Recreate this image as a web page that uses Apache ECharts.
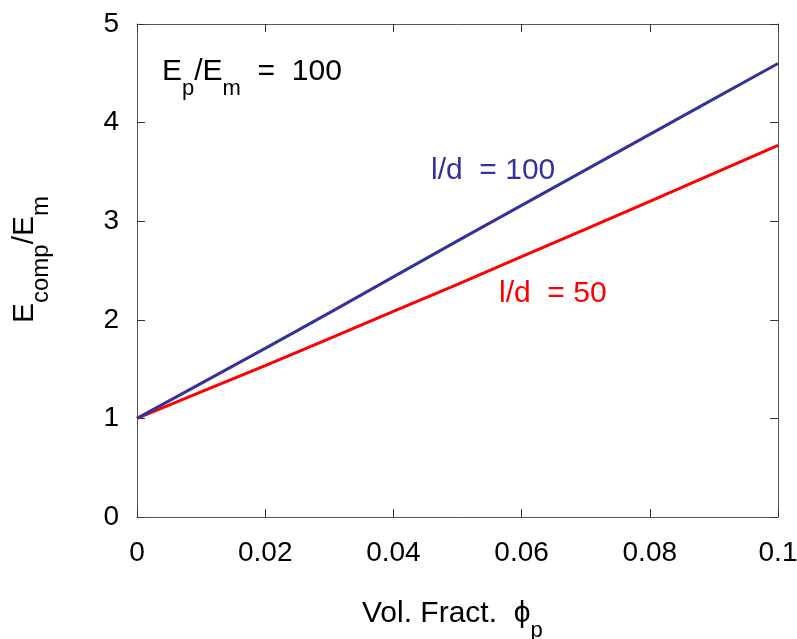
<!DOCTYPE html>
<html>
<head>
<meta charset="utf-8">
<script src="https://cdn.jsdelivr.net/npm/echarts@6/dist/echarts.min.js"></script>
<style>html,body{margin:0;padding:0;background:#fff;}#c{width:797px;height:639px;}</style>
</head>
<body>
<div id="c"></div>
<script>
const xValues = [0, 0.01, 0.02, 0.03, 0.04, 0.05, 0.06, 0.07, 0.08, 0.09, 0.1];
const ld100 = [1, 1.355, 1.71, 2.07, 2.435, 2.80, 3.16, 3.52, 3.88, 4.24, 4.60];
const ld50 = [1, 1.27, 1.535, 1.81, 2.085, 2.36, 2.64, 2.92, 3.20, 3.485, 3.77];
const xTicks = [0, 0.02, 0.04, 0.06, 0.08, 0.1];
const yTicks = [0, 1, 2, 3, 4, 5];

const FONT = 'Liberation Sans, Arial, sans-serif';
const frameColor = '#555';
const chart = echarts.init(document.getElementById('c'));

function axisCommon() {
  return {
    axisLine: { show: true, onZero: false, lineStyle: { color: frameColor, width: 1 } },
    axisTick: { show: true, inside: true, length: 8, lineStyle: { color: '#333', width: 1 } },
    splitLine: { show: false },
    axisLabel: { show: false }
  };
}
const mainRich = {
  m: { fontSize: 30, fontFamily: FONT, color: '#000' },
  s: { fontSize: 22, fontFamily: FONT, color: '#000', padding: [33, 0, 0, 0] }
};
const yRich = {
  m: { fontSize: 30, fontFamily: FONT, color: '#000' },
  s: { fontSize: 24, fontFamily: FONT, color: '#000', padding: [33, 0, 0, 0] }
};

chart.setOption({
  animation: false,
  backgroundColor: '#fff',
  grid: { left: 137, right: 19, top: 24, bottom: 122, outerBoundsMode: 'none', containLabel: false },
  xAxis: [
    Object.assign({ type: 'value', min: 0, max: 0.1, interval: 0.02, position: 'bottom' }, axisCommon(),
      { axisLabel: { show: true, color: '#000', fontSize: 28, fontFamily: FONT, margin: 22,
        formatter: v => String(+v.toFixed(2)) } }),
    Object.assign({ type: 'value', min: 0, max: 0.1, interval: 0.02, position: 'top' }, axisCommon())
  ],
  yAxis: [
    Object.assign({ type: 'value', min: 0, max: 5, interval: 1, position: 'left' }, axisCommon(),
      { axisLabel: { show: true, color: '#000', fontSize: 28, fontFamily: FONT, margin: 18 } }),
    Object.assign({ type: 'value', min: 0, max: 5, interval: 1, position: 'right' }, axisCommon())
  ],
  series: [
    { type: 'line', name: 'l/d = 100', data: xValues.map((x, i) => [x, ld100[i]]), symbol: 'none',
      lineStyle: { color: '#333399', width: 3 }, z: 3 },
    { type: 'line', name: 'l/d = 50', data: xValues.map((x, i) => [x, ld50[i]]), symbol: 'none',
      lineStyle: { color: '#ff0000', width: 3 }, z: 2 }
  ],
  graphic: [
    { type: 'text', x: 162, y: 72, style: { text: '{m|E}{s|p}{m|/E}{s|m}{m|  =  100}', rich: mainRich, textVerticalAlign: 'middle' } },
    { type: 'text', x: 431, y: 171, style: { text: 'l/d  = 100', fill: '#333399', font: '30px ' + FONT, textVerticalAlign: 'middle' } },
    { type: 'text', x: 499, y: 294, style: { text: 'l/d  = 50', fill: '#ff0000', font: '30px ' + FONT, textVerticalAlign: 'middle' } },
    { type: 'text', x: 362, y: 614, style: { text: '{m|Vol. Fract.  ϕ}{s|p}', rich: mainRich, textVerticalAlign: 'middle' } },
    { type: 'text', x: 25, y: 323, rotation: Math.PI / 2, style: { text: '{m|E}{s|comp}{m|/E}{s|m}', rich: yRich, textVerticalAlign: 'middle' } }
  ]
});
</script>
</body>
</html>
